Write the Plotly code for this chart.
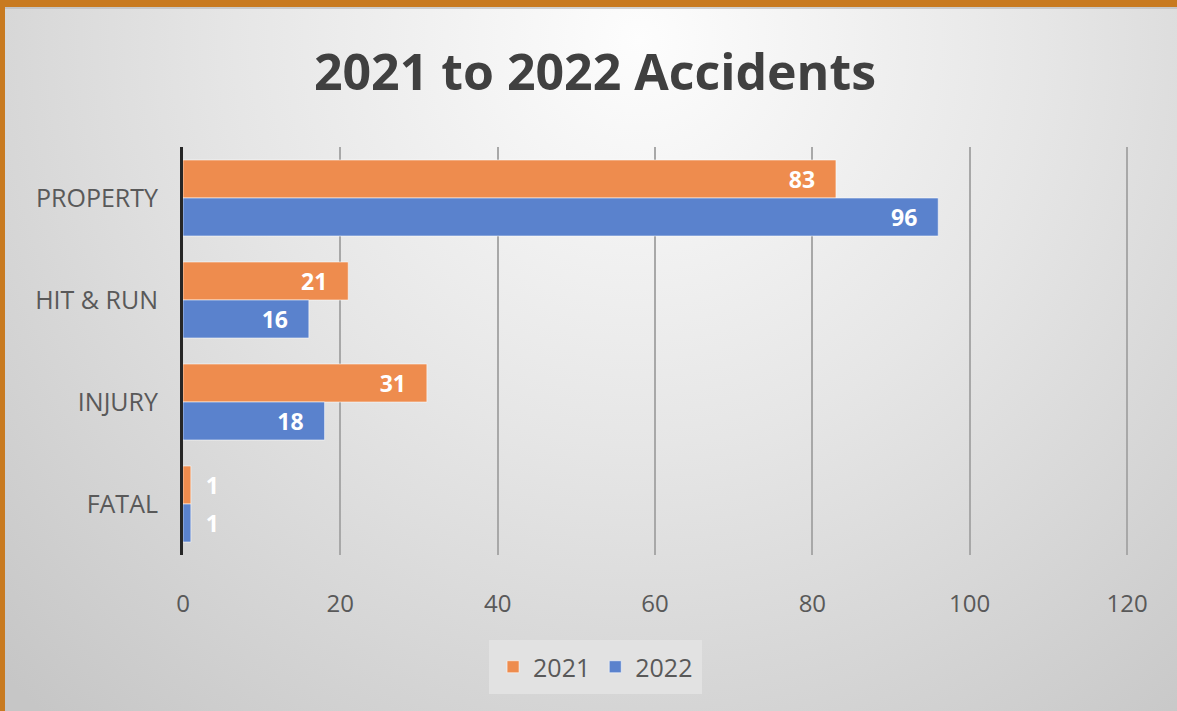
import base64
import plotly.graph_objects as go

categories = ["PROPERTY", "HIT & RUN", "INJURY", "FATAL"]
values_2021 = [83, 21, 31, 1]
values_2022 = [96, 16, 18, 1]
series_names = ["2021", "2022"]
x_ticks = [0, 20, 40, 60, 80, 100, 120]

W, H = 1177, 711
L, R, T, B = 183, 48, 147, 156
PW, PH = W - L - R, H - T - B

svg = f"""<svg xmlns='http://www.w3.org/2000/svg' width='{W}' height='{H}' viewBox='0 0 {W} {H}'>
<defs><radialGradient id='g' cx='640' cy='40' r='900' gradientUnits='userSpaceOnUse'>
<stop offset='0' stop-color='#fdfdfd'/><stop offset='0.45' stop-color='#e6e6e6'/><stop offset='1' stop-color='#c6c6c6'/></radialGradient></defs>
<rect x='0' y='0' width='{W}' height='{H}' fill='#c87a20'/>
<rect x='5' y='7' width='{W-5}' height='{H-7}' fill='url(#g)'/>
<rect x='5' y='7' width='{W-5}' height='2' fill='#b8b8b8' opacity='0.6'/>
</svg>"""
src = "data:image/svg+xml;base64," + base64.b64encode(svg.encode()).decode()

NB = "\u00a0"

def positions(vals):
    return ["outside" if v < 5 else "inside" for v in vals]

def labels(vals):
    return [(NB * 2 + str(v)) if v < 5 else (str(v) + NB * 3) for v in vals]

def bar(vals, name, color):
    return go.Bar(
        y=categories, x=vals, name=name, orientation="h",
        marker=dict(color=color, line=dict(color="rgba(255,255,255,0.55)", width=1)),
        text=labels(vals), textposition=positions(vals),
        insidetextanchor="end", constraintext="none", cliponaxis=False,
        textfont=dict(color="white", size=23, family="Open Sans", weight="bold"),
        hoverinfo="skip",
    )

fig = go.Figure()
fig.add_trace(bar(values_2021, series_names[0], "#ee8c4e"))
fig.add_trace(bar(values_2022, series_names[1], "#5a82cd"))

fig.update_layout(
    width=W, height=H,
    margin=dict(l=L, r=R, t=T, b=B),
    paper_bgcolor="#c87a20",
    plot_bgcolor="rgba(0,0,0,0)",
    barmode="group", bargap=0.255, bargroupgap=0,
    font=dict(family="Open Sans", color="#595959"),
    title=dict(text="<b>2021 to 2022 Accidents</b>", x=0.5055, xref="container",
               y=1 - 72 / H, yref="container", xanchor="center", yanchor="middle",
               font=dict(size=50, color="#404040", family="Open Sans")),
    xaxis=dict(range=[0, 120.25], tickvals=x_ticks, showgrid=True, gridcolor="#a8a8a8",
               gridwidth=2, zeroline=False, showline=False, ticks="",
               tickfont=dict(size=24, color="#595959"), ticklabelstandoff=32),
    yaxis=dict(categoryorder="array", categoryarray=categories, autorange="reversed",
               showgrid=False, showline=True, linecolor="#262626", linewidth=3,
               ticks="", tickfont=dict(size=25, color="#595959"), ticklabelstandoff=17),
    legend=dict(orientation="h", xref="container", yref="container",
                x=0.506, y=1 - 667 / H, xanchor="center", yanchor="middle",
                bgcolor="#e2e2e2", bordercolor="#e2e2e2", borderwidth=4,
                traceorder="normal",
                font=dict(size=25, color="#595959"), itemwidth=30),
    images=[dict(source=src, xref="paper", yref="paper",
                 x=-L / PW, y=1 + T / PH, sizex=W / PW, sizey=H / PH,
                 xanchor="left", yanchor="top", sizing="stretch", layer="below")],
    showlegend=True,
)

fig.write_html("out.html", config={"displayModeBar": False},
               post_script="document.body.style.margin='0';document.body.style.overflow='hidden';")
